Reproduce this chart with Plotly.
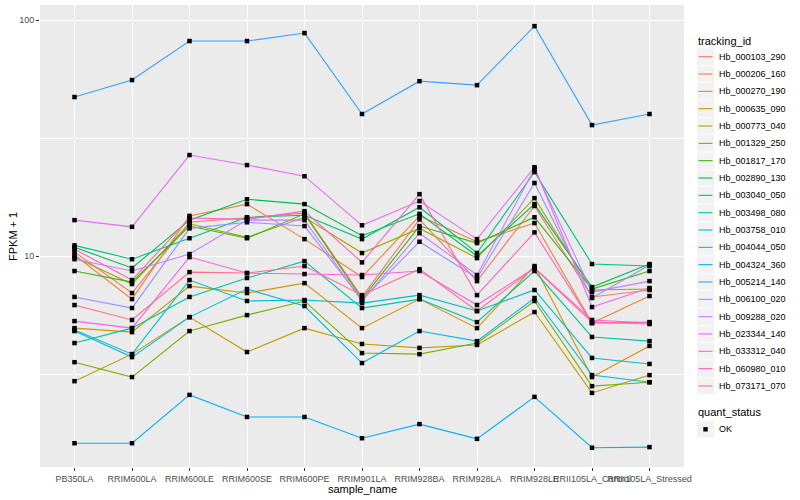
import plotly.graph_objects as go

samples = ["PB350LA", "RRIM600LA", "RRIM600LE", "RRIM600SE", "RRIM600PE",
           "RRIM901LA", "RRIM928BA", "RRIM928LA", "RRIM928LE",
           "RRII105LA_Control", "RRII105LA_Stressed"]

tracking_ids = ["Hb_000103_290", "Hb_000206_160", "Hb_000270_190", "Hb_000635_090",
                "Hb_000773_040", "Hb_001329_250", "Hb_001817_170", "Hb_002890_130",
                "Hb_003040_050", "Hb_003498_080", "Hb_003758_010", "Hb_004044_050",
                "Hb_004324_360", "Hb_005214_140", "Hb_006100_020", "Hb_009288_020",
                "Hb_023344_140", "Hb_033312_040", "Hb_060980_010", "Hb_073171_070"]

colors = ["#F8766D", "#EA8331", "#D89000", "#C09B00", "#A3A500", "#7CAE00", "#39B600",
          "#00BB4E", "#00BF7D", "#00C1A3", "#00BFC4", "#00BAE0", "#00B0F6", "#35A2FF",
          "#9590FF", "#C77CFF", "#E76BF3", "#FA62DB", "#FF62BC", "#FF6C91"]

quant_status = ["OK"]

# FPKM + 1 per sample (order as in `samples`)
Hb_000103_290 = [10.4, 6.97, 13.9, 14.5, 15.2, 6.71, 14.3, 7.83, 16.3, 6.71, 7.18]
Hb_000206_160 = [10.1, 6.57, 14.8, 16.6, 11.8, 8.15, 14.8, 11.5, 13.8, 5.20, 6.77]
Hb_000270_190 = [4.95, 4.76, 7.46, 6.97, 7.68, 4.95, 6.57, 4.95, 9.07, 3.07, 4.16]
Hb_000635_090 = [2.95, 3.84, 5.51, 3.92, 4.95, 4.24, 4.08, 4.20, 5.79, 2.63, 3.13]
Hb_000773_040 = [9.9, 7.61, 13.7, 12.0, 14.6, 10.3, 13.1, 9.8, 17.6, 7.18, 7.25]
Hb_001329_250 = [3.55, 3.07, 4.81, 5.62, 6.45, 3.88, 3.84, 4.28, 6.45, 2.81, 2.92]
Hb_001817_170 = [8.64, 7.76, 13.4, 11.9, 15.1, 6.57, 13.4, 11.35, 14.6, 7.25, 8.64]
Hb_002890_130 = [10.9, 8.9, 14.2, 17.4, 16.6, 12.2, 15.1, 10.0, 16.6, 7.39, 9.25]
Hb_003040_050 = [11.1, 9.7, 11.9, 14.6, 14.9, 11.8, 16.1, 10.3, 22.7, 9.25, 9.07]
Hb_003498_080 = [4.28, 4.95, 6.71, 8.07, 9.52, 6.02, 6.57, 5.25, 8.64, 4.54, 4.36]
Hb_003758_010 = [4.86, 3.84, 7.91, 6.45, 6.51, 6.32, 6.83, 5.85, 7.18, 3.70, 3.49]
Hb_004044_050 = [4.81, 3.73, 5.51, 7.25, 6.14, 3.52, 4.81, 4.36, 6.64, 3.13, 2.92]
Hb_004324_360 = [1.61, 1.61, 2.58, 2.08, 2.08, 1.69, 1.94, 1.68, 2.53, 1.54, 1.55]
Hb_005214_140 = [47.2, 55.7, 81.5, 81.5, 88.1, 40.0, 55.1, 53.0, 94.3, 35.9, 40.0]
Hb_006100_020 = [6.71, 6.02, 13.1, 13.9, 13.4, 6.51, 11.5, 8.07, 20.4, 6.64, 9.16]
Hb_009288_020 = [9.7, 8.64, 10.2, 14.2, 14.2, 6.45, 12.5, 8.31, 23.4, 7.04, 7.83]
Hb_023344_140 = [14.2, 13.3, 26.8, 24.3, 21.8, 13.5, 17.1, 11.8, 23.8, 6.08, 7.32]
Hb_033312_040 = [5.30, 4.95, 9.9, 8.47, 8.39, 8.31, 8.64, 6.20, 8.9, 5.36, 5.20]
Hb_060980_010 = [10.7, 7.91, 14.5, 14.3, 15.5, 9.4, 18.3, 6.83, 12.6, 5.20, 5.25]
Hb_073171_070 = [6.20, 5.36, 8.55, 8.47, 9.07, 6.83, 8.8, 5.85, 8.9, 5.25, 5.15]

series = [Hb_000103_290, Hb_000206_160, Hb_000270_190, Hb_000635_090, Hb_000773_040,
          Hb_001329_250, Hb_001817_170, Hb_002890_130, Hb_003040_050, Hb_003498_080,
          Hb_003758_010, Hb_004044_050, Hb_004324_360, Hb_005214_140, Hb_006100_020,
          Hb_009288_020, Hb_023344_140, Hb_033312_040, Hb_060980_010, Hb_073171_070]

FONT = "Liberation Sans, Arial, Helvetica, sans-serif"
W, H = 800, 500
ML, MR, MT, MB = 40, 116, 5, 33
PW, PH = W - ML - MR, H - MT - MB

def px(xp):   # figure pixel -> paper x
    return (xp - ML) / PW

def py(yp):   # figure pixel -> paper y
    return (H - MB - yp) / PH

fig = go.Figure()
for name, col, vals in zip(tracking_ids, colors, series):
    fig.add_trace(go.Scatter(
        x=samples, y=vals, mode="lines", name=name,
        line=dict(color=col, width=1.1), showlegend=False, hoverinfo="skip"))

all_x = [s for vals in series for s in samples]
all_y = [v for vals in series for v in vals]
fig.add_trace(go.Scatter(
    x=all_x, y=all_y, mode="markers", name=quant_status[0], showlegend=False,
    marker=dict(symbol="square", size=4.5, color="black", line=dict(width=0))))

shapes, annos = [], []

# axis titles
annos.append(dict(text="sample_name", x=px(362), y=py(489), xref="paper", yref="paper",
                  xanchor="center", yanchor="middle", showarrow=False,
                  font=dict(size=11, color="black")))
annos.append(dict(text="FPKM + 1", x=px(13), y=py(236), xref="paper", yref="paper",
                  xanchor="center", yanchor="middle", showarrow=False, textangle=-90,
                  font=dict(size=11, color="black")))

# ggplot-style legend (keys with grey backgrounds)
KX0, KX1 = 697, 714
TX = 717
Y0, STEP, KH = 56.7, 17.33, 16.6
annos.append(dict(text="tracking_id", x=px(696), y=py(41), xref="paper", yref="paper",
                  xanchor="left", yanchor="middle", showarrow=False,
                  font=dict(size=11, color="black")))
for i, (name, col) in enumerate(zip(tracking_ids, colors)):
    cy = Y0 + STEP * i
    shapes.append(dict(type="rect", xref="paper", yref="paper",
                       x0=px(KX0), x1=px(KX1), y0=py(cy - KH / 2), y1=py(cy + KH / 2),
                       fillcolor="#F2F2F2", line=dict(width=0), layer="below"))
    shapes.append(dict(type="line", xref="paper", yref="paper",
                       x0=px(KX0 + 1.5), x1=px(KX1 - 1.5), y0=py(cy), y1=py(cy),
                       line=dict(color=col, width=1.1)))
    annos.append(dict(text=name, x=px(TX), y=py(cy), xref="paper", yref="paper",
                      xanchor="left", yanchor="middle", showarrow=False,
                      font=dict(size=9, color="black")))

annos.append(dict(text="quant_status", x=px(696), y=py(412), xref="paper", yref="paper",
                  xanchor="left", yanchor="middle", showarrow=False,
                  font=dict(size=11, color="black")))
cy = 429.3
shapes.append(dict(type="rect", xref="paper", yref="paper",
                   x0=px(KX0), x1=px(KX1), y0=py(cy - KH / 2), y1=py(cy + KH / 2),
                   fillcolor="#F2F2F2", line=dict(width=0), layer="below"))
shapes.append(dict(type="rect", xref="paper", yref="paper",
                   x0=px(703.3), x1=px(707.7), y0=py(cy - 2.2), y1=py(cy + 2.2),
                   fillcolor="black", line=dict(width=0)))
annos.append(dict(text=quant_status[0], x=px(TX), y=py(cy), xref="paper", yref="paper",
                  xanchor="left", yanchor="middle", showarrow=False,
                  font=dict(size=9, color="black")))

fig.update_layout(
    width=W, height=H,
    margin=dict(l=ML, r=MR, t=MT, b=MB, autoexpand=False),
    paper_bgcolor="white", plot_bgcolor="#EBEBEB",
    font=dict(family=FONT, size=9, color="#4D4D4D"),
    showlegend=False, shapes=shapes, annotations=annos,
)
fig.update_xaxes(
    type="category", range=[-0.6, 10.6], showgrid=True, gridcolor="white", gridwidth=1.1,
    zeroline=False, ticks="outside", ticklen=3, tickcolor="#333333", tickangle=0,
    tickfont=dict(size=9, color="#4D4D4D"), automargin=False)
fig.update_yaxes(
    type="log", range=[0.106, 2.064], tickvals=[10, 100], ticktext=["10", "100"],
    showgrid=True, gridcolor="white", gridwidth=1.1, zeroline=False,
    ticks="outside", ticklen=3, tickcolor="#333333", automargin=False,
    tickfont=dict(size=9, color="#4D4D4D"),
    minor=dict(tickvals=[3.1623, 31.623], showgrid=True, gridcolor="white", gridwidth=0.5, ticks=""))

fig.write_html("out.html", config={"displayModeBar": False},
               post_script="document.body.style.margin='0px';")
